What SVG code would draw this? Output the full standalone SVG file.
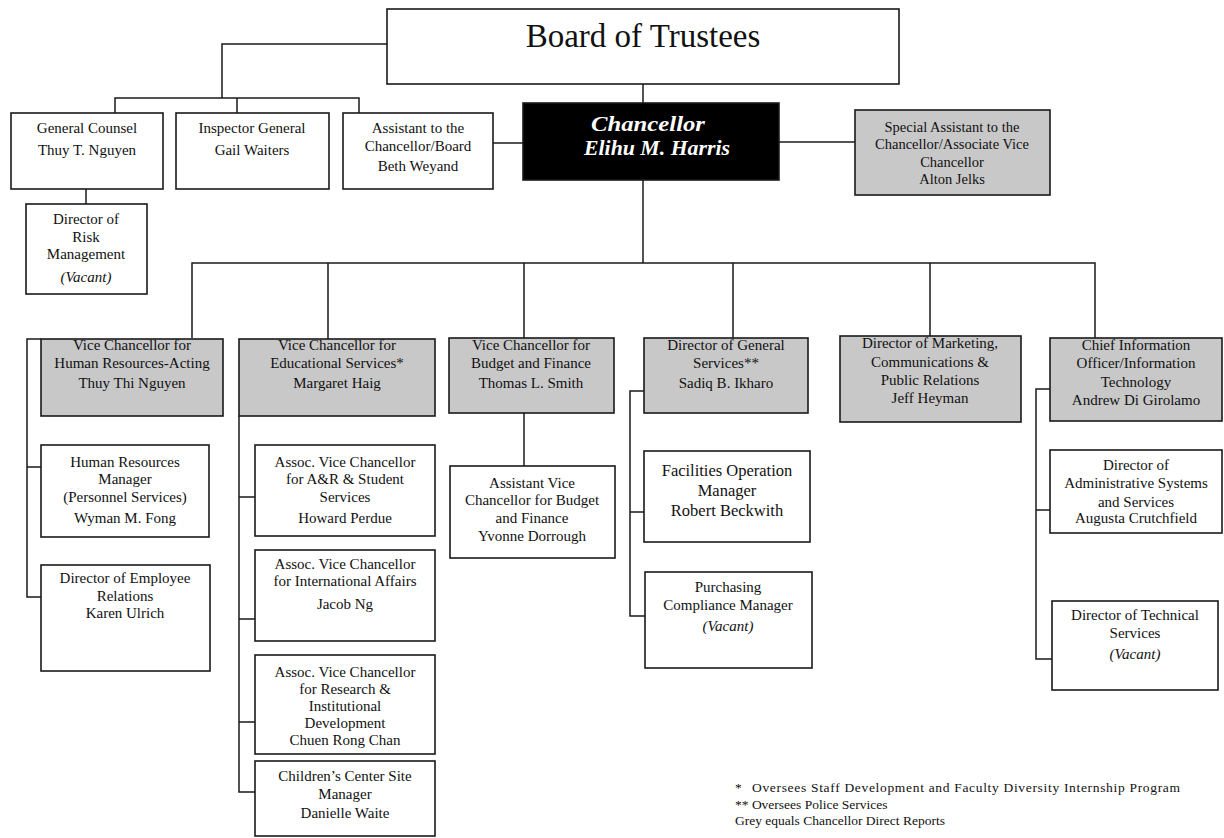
<svg xmlns="http://www.w3.org/2000/svg" width="1224" height="838" viewBox="0 0 1224 838">
<style>
.bx{fill:#fff;stroke:#1a1a1a;stroke-width:1.6}
.gr{fill:#c8c8c8;stroke:#1a1a1a;stroke-width:1.6}
.bk{fill:#000;stroke:#1a1a1a;stroke-width:1.6}
.t{font-family:"Liberation Serif","Times New Roman",serif;font-size:15px;fill:#111;text-anchor:middle}
.s{font-size:14.5px}
.i{font-style:italic}
.w{fill:#fff;font-weight:bold;font-style:italic;font-size:22px}
.fn{font-family:"Liberation Serif","Times New Roman",serif;font-size:13.5px;fill:#111}
#connectors path{fill:none;stroke:#1a1a1a;stroke-width:1.5}
</style>
<rect width="1224" height="838" fill="#fff"/>
<g id="connectors">
<path d="M387,44H222V98M115,113V98H359V113M237,98V113"/>
<path d="M643,84V103"/>
<path d="M493,143H523"/>
<path d="M779,142H855"/>
<path d="M643,180V263"/>
<path d="M192,338V263H1095V338M328,263V339M524,263V338M733,263V338M930,263V336"/>
<path d="M86,189V204"/>
<path d="M41,339H27V597H41M27,467H41"/>
<path d="M239,416V792H255M239,497H255M239,619H255M239,722H255"/>
<path d="M524,413V466"/>
<path d="M644,391H630V616H645M630,512H644"/>
<path d="M1050,389H1036V659H1052M1036,510H1050"/>
</g>
<g id="board">
<rect class="bx" x="387" y="9" width="512" height="75"/>
<text class="t" x="643" y="47" style="font-size:33px">Board of Trustees</text>
</g>
<g id="general-counsel">
<rect class="bx" x="11" y="113" width="152" height="76"/>
<text class="t" x="87" y="133">General Counsel</text>
<text class="t" x="87" y="155">Thuy T. Nguyen</text>
</g>
<g id="inspector-general">
<rect class="bx" x="176" y="113" width="153" height="76"/>
<text class="t" x="252" y="133">Inspector General</text>
<text class="t" x="252" y="155">Gail Waiters</text>
</g>
<g id="assistant-board">
<rect class="bx" x="343" y="113" width="150" height="76"/>
<text class="t" x="418" y="133">Assistant to the</text>
<text class="t" x="418" y="151">Chancellor/Board</text>
<text class="t" x="418" y="171">Beth Weyand</text>
</g>
<g id="chancellor">
<rect class="bk" x="523" y="103" width="256" height="77"/>
<text class="t w" x="648" y="131" textLength="114" lengthAdjust="spacingAndGlyphs">Chancellor</text>
<text class="t w" x="657" y="155" textLength="146" lengthAdjust="spacingAndGlyphs">Elihu M. Harris</text>
</g>
<g id="special-assistant">
<rect class="gr" x="855" y="110" width="195" height="85"/>
<text class="t s" x="952" y="132">Special Assistant to the</text>
<text class="t s" x="952" y="149">Chancellor/Associate Vice</text>
<text class="t s" x="952" y="167">Chancellor</text>
<text class="t s" x="952" y="184">Alton Jelks</text>
</g>
<g id="risk-management">
<rect class="bx" x="26" y="204" width="121" height="90"/>
<text class="t" x="86" y="224">Director of</text>
<text class="t" x="86" y="242">Risk</text>
<text class="t" x="86" y="259">Management</text>
<text class="t i" x="86" y="282">(Vacant)</text>
</g>
<g id="vc-hr">
<rect class="gr" x="41" y="339" width="182" height="77"/>
<text class="t" x="132" y="350">Vice Chancellor for</text>
<text class="t" x="132" y="368">Human Resources-Acting</text>
<text class="t" x="132" y="388">Thuy Thi Nguyen</text>
</g>
<g id="vc-ed">
<rect class="gr" x="239" y="339" width="196" height="77"/>
<text class="t" x="337" y="350">Vice Chancellor for</text>
<text class="t" x="337" y="368">Educational Services*</text>
<text class="t" x="337" y="388">Margaret Haig</text>
</g>
<g id="vc-budget">
<rect class="gr" x="449" y="338" width="165" height="75"/>
<text class="t" x="531" y="350">Vice Chancellor for</text>
<text class="t" x="531" y="368">Budget and Finance</text>
<text class="t" x="531" y="388">Thomas L. Smith</text>
</g>
<g id="dir-general-services">
<rect class="gr" x="644" y="338" width="164" height="75"/>
<text class="t" x="726" y="350">Director of General</text>
<text class="t" x="726" y="368">Services**</text>
<text class="t" x="726" y="388">Sadiq B. Ikharo</text>
</g>
<g id="dir-marketing">
<rect class="gr" x="840" y="336" width="181" height="86"/>
<text class="t" x="930" y="348">Director of Marketing,</text>
<text class="t" x="930" y="367">Communications &amp;</text>
<text class="t" x="930" y="385">Public Relations</text>
<text class="t" x="930" y="403">Jeff Heyman</text>
</g>
<g id="cio">
<rect class="gr" x="1050" y="338" width="172" height="83"/>
<text class="t" x="1136" y="350">Chief Information</text>
<text class="t" x="1136" y="368">Officer/Information</text>
<text class="t" x="1136" y="387">Technology</text>
<text class="t" x="1136" y="405">Andrew Di Girolamo</text>
</g>
<g id="hr-manager">
<rect class="bx" x="41" y="445" width="168" height="92"/>
<text class="t" x="125" y="467">Human Resources</text>
<text class="t" x="125" y="484">Manager</text>
<text class="t" x="125" y="502">(Personnel Services)</text>
<text class="t" x="125" y="523">Wyman M. Fong</text>
</g>
<g id="employee-relations">
<rect class="bx" x="41" y="565" width="169" height="106"/>
<text class="t" x="125" y="583">Director of Employee</text>
<text class="t" x="125" y="601">Relations</text>
<text class="t" x="125" y="618">Karen Ulrich</text>
</g>
<g id="avc-ar">
<rect class="bx" x="255" y="445" width="180" height="91"/>
<text class="t" x="345" y="467">Assoc. Vice Chancellor</text>
<text class="t" x="345" y="484">for A&amp;R &amp; Student</text>
<text class="t" x="345" y="502">Services</text>
<text class="t" x="345" y="523">Howard Perdue</text>
</g>
<g id="avc-international">
<rect class="bx" x="255" y="550" width="180" height="91"/>
<text class="t" x="345" y="569">Assoc. Vice Chancellor</text>
<text class="t" x="345" y="586">for International Affairs</text>
<text class="t" x="345" y="609">Jacob Ng</text>
</g>
<g id="avc-research">
<rect class="bx" x="255" y="655" width="180" height="99"/>
<text class="t" x="345" y="677">Assoc. Vice Chancellor</text>
<text class="t" x="345" y="694">for Research &amp;</text>
<text class="t" x="345" y="711">Institutional</text>
<text class="t" x="345" y="728">Development</text>
<text class="t" x="345" y="745">Chuen Rong Chan</text>
</g>
<g id="childrens-center">
<rect class="bx" x="255" y="761" width="180" height="75"/>
<text class="t" x="345" y="781">Children’s Center Site</text>
<text class="t" x="345" y="799">Manager</text>
<text class="t" x="345" y="818">Danielle Waite</text>
</g>
<g id="avc-budget">
<rect class="bx" x="450" y="466" width="165" height="92"/>
<text class="t" x="532" y="488">Assistant Vice</text>
<text class="t" x="532" y="505">Chancellor for Budget</text>
<text class="t" x="532" y="523">and Finance</text>
<text class="t" x="532" y="541">Yvonne Dorrough</text>
</g>
<g id="facilities">
<rect class="bx" x="644" y="451" width="166" height="91"/>
<text class="t" x="727" y="476" style="font-size:16.5px">Facilities Operation</text>
<text class="t" x="727" y="496" style="font-size:16.5px">Manager</text>
<text class="t" x="727" y="516" style="font-size:16.5px">Robert Beckwith</text>
</g>
<g id="purchasing">
<rect class="bx" x="645" y="572" width="167" height="96"/>
<text class="t" x="728" y="592">Purchasing</text>
<text class="t" x="728" y="610">Compliance Manager</text>
<text class="t i" x="728" y="631">(Vacant)</text>
</g>
<g id="admin-systems">
<rect class="bx" x="1050" y="450" width="172" height="83"/>
<text class="t" x="1136" y="470">Director of</text>
<text class="t" x="1136" y="488">Administrative Systems</text>
<text class="t" x="1136" y="507">and Services</text>
<text class="t" x="1136" y="523">Augusta Crutchfield</text>
</g>
<g id="technical-services">
<rect class="bx" x="1052" y="601" width="166" height="89"/>
<text class="t" x="1135" y="620">Director of Technical</text>
<text class="t" x="1135" y="638">Services</text>
<text class="t i" x="1135" y="659">(Vacant)</text>
</g>
<g id="footnotes">
<text class="fn" x="735" y="792">*<tspan x="752" textLength="428" lengthAdjust="spacing">Oversees Staff Development and Faculty Diversity Internship Program</tspan></text>
<text class="fn" x="735" y="809">** Oversees Police Services</text>
<text class="fn" x="735" y="825">Grey equals Chancellor Direct Reports</text>
</g>
</svg>
